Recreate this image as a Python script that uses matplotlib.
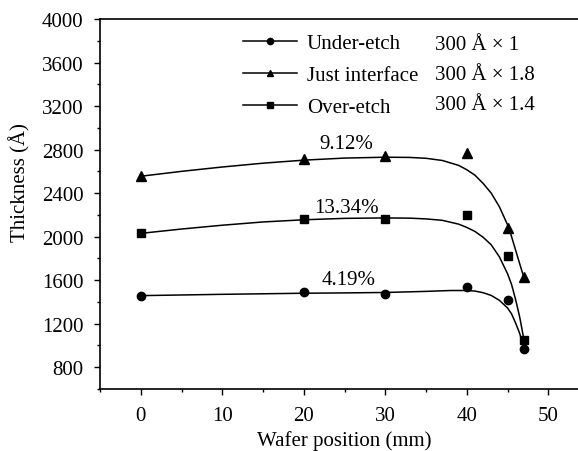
import numpy as np
import matplotlib
matplotlib.use("Agg")
import matplotlib.pyplot as plt
from matplotlib.ticker import MultipleLocator

plt.rcParams['font.family'] = ['Liberation Serif', 'DejaVu Serif']
plt.rcParams['font.size'] = 15

# measured points
positions = [0, 20, 30, 40, 45, 47]
under_etch = [1459, 1490, 1471, 1536, 1419, 965]
just_interface = [2559, 2713, 2737, 2768, 2084, 1628]
over_etch = [2032, 2161, 2164, 2198, 1824, 1048]

# fitted curves
under_fit_x = [0, 10, 20, 25, 30, 35, 38, 40, 41, 42, 43, 44, 45, 45.5, 46, 46.5, 47]
under_fit_y = [1458, 1470, 1480, 1483, 1487, 1497, 1505, 1505, 1500, 1485, 1460, 1415,
               1345, 1290, 1205, 1110, 975]
just_fit_x = [0, 5, 10, 15, 20, 25, 30, 33, 35, 37, 39, 40, 41, 42, 43, 44, 45, 45.5,
              46, 46.5, 47]
just_fit_y = [2555, 2600, 2640, 2675, 2703, 2722, 2730, 2728, 2720, 2700, 2655, 2615,
              2565, 2490, 2400, 2275, 2110, 2000, 1875, 1750, 1628]
over_fit_x = [0, 5, 10, 15, 20, 25, 30, 33, 35, 37, 39, 40, 41, 42, 43, 44, 45, 45.5,
              46, 46.5, 47]
over_fit_y = [2030, 2070, 2105, 2135, 2155, 2168, 2172, 2170, 2163, 2150, 2115, 2085,
              2048, 1995, 1925, 1815, 1660, 1560, 1420, 1260, 1060]

labels = ["Under-etch", "Just interface", "Over-etch"]
scales = ["300 Å × 1", "300 Å × 1.8", "300 Å × 1.4"]
uniformity = ["4.19%", "9.12%", "13.34%"]
uniformity_x = [25.5, 25.2, 25.3]
uniformity_y = [1603, 2860, 2271]

fig = plt.figure(figsize=(5.78, 4.52), dpi=100)
ax = fig.add_axes([100 / 578, 1 - 390 / 452, 489 / 578, 370 / 452])

series = [
    (under_etch, under_fit_x, under_fit_y, 'o', 6),
    (just_interface, just_fit_x, just_fit_y, '^', 6.5),
    (over_etch, over_fit_x, over_fit_y, 's', 5.5),
]
handles = []
for (vals, fx, fy, mk, ms), lab in zip(series, labels):
    ax.plot(positions, vals, linestyle='none', marker=mk, markersize=ms, color='black')
    ax.plot(fx, fy, color='black', linewidth=1.1)
    h, = ax.plot([], [], color='black', linewidth=1.1, marker=mk, markersize=ms * 0.75,
                 label=lab)
    handles.append(h)

for txt, x, y in zip(uniformity, uniformity_x, uniformity_y):
    ax.text(x, y, txt, ha='center', va='center', fontsize=15)

leg = ax.legend(handles=handles, loc='upper left', bbox_to_anchor=(0.263, 1.0),
                frameon=False, handlelength=2.6, handletextpad=0.45,
                labelspacing=0.6, borderaxespad=0.3, fontsize=15)

row_y = [45, 76, 106]
for s, ry in zip(scales, row_y):
    fig.text(435 / 578, 1 - ry / 452, s, ha='left', va='center', fontsize=15)

ax.set_xlim(-5, 55)
ax.set_ylim(600, 4000)
ax.xaxis.set_major_locator(MultipleLocator(10))
ax.xaxis.set_minor_locator(MultipleLocator(5))
ax.yaxis.set_major_locator(MultipleLocator(400))
ax.yaxis.set_minor_locator(MultipleLocator(200))
ax.set_yticks(np.arange(800, 4001, 400))
ax.tick_params(which='major', direction='out', length=4, width=1, pad=8)
ax.tick_params(which='minor', direction='out', length=2, width=1)
ax.tick_params(top=False, right=False, which='both')
for sp in ax.spines.values():
    sp.set_linewidth(1.2)

ax.set_xlabel("Wafer position (mm)")
ax.set_ylabel("Thickness (Å)")
ax.xaxis.set_label_coords(0.5, -0.138)
ax.yaxis.set_label_coords(-0.164, 0.56)
ax.xaxis.label.set_va('center')
ax.yaxis.label.set_va('center')

fig.savefig("out.png", dpi=100)
